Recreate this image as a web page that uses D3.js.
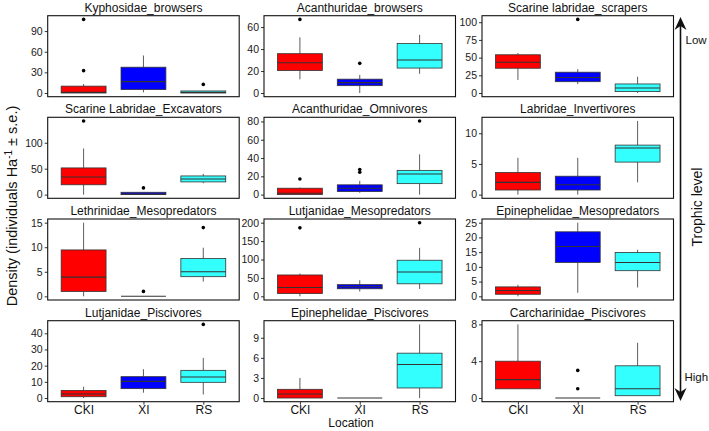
<!DOCTYPE html>
<html><head><meta charset="utf-8">
<script src="https://cdn.jsdelivr.net/npm/d3@7"></script>
<style>
html,body{margin:0;padding:0;background:#fff;}
text{font-family:"Liberation Sans",Arial,sans-serif;}
</style></head>
<body>
<svg id="chart" width="709" height="431"></svg>
<script>
const categories = ["CKI", "XI", "RS"];
const titles = ["Kyphosidae_browsers","Acanthuridae_browsers","Scarine labridae_scrapers",
  "Scarine Labridae_Excavators","Acanthuridae_Omnivores","Labridae_Invertivores",
  "Lethrinidae_Mesopredators","Lutjanidae_Mesopredators","Epinephelidae_Mesopredators",
  "Lutjanidae_Piscivores","Epinephelidae_Piscivores","Carcharinidae_Piscivores"];
const yTicks = [[0,30,60,90],[0,20,40,60],[0,25,50,75,100],
  [0,50,100],[0,20,40,60,80],[0,5,10],
  [0,5,10,15],[0,50,100,150,200],[0,5,10,15,20,25],
  [0,10,20,30,40],[0,3,6,9],[0,4,8]];
const whiskerLow = [[0,1,0],[12.5,0,17.5],[18.5,12.5,0],
  [0,0,22],[0,2,0],[0,0,2],
  [0,0,3],[0,13,20],[0,1.2,3],
  [0,3.3,2.2],[0,0,0],[1,0,0.25]];
const q1 = [[0,5,0],[20.5,6.7,22.7],[35,16,2],
  [19,0,24.5],[0,3.3,12],[0.75,0.75,5.3],
  [1,0,4],[7.5,20.5,34],[0.7,11.5,8.7],
  [0.8,5.8,9.7],[0,0,1.5],[1,0,0.25]];
const median = [[1,16.5,1],[27.5,9.5,30],[43.5,22,7],
  [34,1,30],[1.5,7,22.5],[2,1.6,7.6],
  [3.9,0,5],[24,26,66],[2,16.9,11.5],
  [2.5,10.3,13],[0.6,0,5],[2,0,1]];
const q3 = [[10,37.5,3],[35.8,12.6,45],[54,29.4,12.8],
  [51.5,4.5,36],[7,10.7,26.5],[3.6,3,8.07],
  [9.45,0,7.7],[58,31.7,98],[3.2,21.9,14.9],
  [4.7,13.2,17.1],[1.3,0,6.7],[4,0,3.5]];
const whiskerHigh = [[13,54.5,3],[50.7,16.5,53],[56.5,33.7,23],
  [89,4.5,40],[7.7,15,44],[6,6,12],
  [15,0,9.9],[62,43.6,131.6],[3.9,25,15.8],
  [7,17.8,24.8],[3,0,11],[8,0,6]];
const outliers = [[[32.5,107],[],[12.5]],[[67],[27],[]],[[],[104],[]],
  [[142],[13],[]],[[17],[24.5,27.5],[80.5]],[[],[],[]],
  [[],[1],[14]],[[186],[],[200]],[[],[],[]],
  [[],[],[45.5]],[[],[],[]],[[],[1,3],[]]];
const fills = ["#FF0000", "#0000FF", "#33FFFF"];

const svg = d3.select("#chart");
const colX = [47.7, 264, 482];
const rowY = [15.7, 117.3, 219, 320.7];
const pw = 191.5, ph = 81;

titles.forEach((title, i) => {
  const x0 = colX[i % 3], y0 = rowY[Math.floor(i / 3)];
  const g = svg.append("g").attr("transform", `translate(${x0},${y0})`);
  let lo = 0, hi = 0;
  for (let k = 0; k < 3; k++) {
    lo = Math.min(lo, whiskerLow[i][k], ...outliers[i][k]);
    hi = Math.max(hi, whiskerHigh[i][k], ...outliers[i][k]);
  }
  const pad = (hi - lo) * 0.05;
  const y = d3.scaleLinear().domain([lo - pad, hi + pad]).range([ph, 0]);
  const x = d3.scalePoint().domain(categories).range([0, pw]).padding(0.6);
  const bw = x.step() * 0.75;

  const ya = g.append("g").call(d3.axisLeft(y).tickValues(yTicks[i]).tickSize(3).tickPadding(2).tickFormat(d3.format("d")));
  ya.select(".domain").remove();
  ya.selectAll("line").attr("stroke", "#333").attr("stroke-width", 1);
  ya.selectAll("text").attr("font-size", 10.5).attr("fill", "#1a1a1a").style("font-family", '"Liberation Sans",Arial,sans-serif');

  categories.forEach((c, k) => {
    const cx = x(c);
    const bg = g.append("g");
    bg.append("line").attr("x1", cx).attr("x2", cx)
      .attr("y1", y(whiskerLow[i][k])).attr("y2", y(q1[i][k]))
      .attr("stroke", "#333").attr("stroke-width", 0.8);
    bg.append("line").attr("x1", cx).attr("x2", cx)
      .attr("y1", y(q3[i][k])).attr("y2", y(whiskerHigh[i][k]))
      .attr("stroke", "#333").attr("stroke-width", 0.8);
    bg.append("rect").attr("x", cx - bw / 2).attr("width", bw)
      .attr("y", y(q3[i][k])).attr("height", Math.max(0, y(q1[i][k]) - y(q3[i][k])))
      .attr("fill", fills[k]).attr("stroke", "#333").attr("stroke-width", 0.8);
    bg.append("line").attr("x1", cx - bw / 2).attr("x2", cx + bw / 2)
      .attr("y1", y(median[i][k])).attr("y2", y(median[i][k]))
      .attr("stroke", "#333").attr("stroke-width", 1.1);
    outliers[i][k].forEach(v => {
      bg.append("circle").attr("cx", cx).attr("cy", y(v)).attr("r", 1.8).attr("fill", "#000");
    });
  });

  g.append("rect").attr("x", 0).attr("y", 0).attr("width", pw).attr("height", ph)
    .attr("fill", "none").attr("stroke", "#111").attr("stroke-width", 1.1);
  g.append("text").attr("x", pw / 2).attr("y", -4).attr("text-anchor", "middle")
    .attr("font-size", 12).attr("fill", "#111").text(title);

  if (Math.floor(i / 3) === 3) {
    const xa = g.append("g").attr("transform", `translate(0,${ph})`)
      .call(d3.axisBottom(x).tickSize(3).tickPadding(1));
    xa.select(".domain").remove();
    xa.selectAll("line").attr("stroke", "#333");
    xa.selectAll("text").attr("font-size", 12).attr("fill", "#111").style("font-family", '"Liberation Sans",Arial,sans-serif');
  }
});

svg.append("text").attr("x", 351).attr("y", 427).attr("text-anchor", "middle")
  .attr("font-size", 12).attr("fill", "#111").text("Location");
const yt = svg.append("text").attr("transform", "translate(17,206) rotate(-90)")
  .attr("text-anchor", "middle").attr("font-size", 14.5).attr("fill", "#111");
yt.append("tspan").text("Density (individuals Ha");
yt.append("tspan").attr("dy", -5).attr("font-size", 10).text("-1");
yt.append("tspan").attr("dy", 5).text(" ± s.e.)");

const ax = 680.5;
svg.append("line").attr("x1", ax).attr("x2", ax).attr("y1", 22).attr("y2", 396)
  .attr("stroke", "#111").attr("stroke-width", 1.6);
svg.append("path").attr("d", `M${ax},17 L${ax-6},30 L${ax},26 L${ax+6},30 Z`).attr("fill", "#111");
svg.append("path").attr("d", `M${ax},401 L${ax-6},388 L${ax},392 L${ax+6},388 Z`).attr("fill", "#111");
svg.append("text").attr("x", 685.5).attr("y", 44).attr("font-size", 11.5).attr("fill", "#111").text("Low");
svg.append("text").attr("x", 684.5).attr("y", 381).attr("font-size", 11.5).attr("fill", "#111").text("High");
svg.append("text").attr("transform", "translate(702,207) rotate(-90)").attr("text-anchor", "middle")
  .attr("font-size", 14).attr("fill", "#111").text("Trophic level");
</script>
</body></html>
